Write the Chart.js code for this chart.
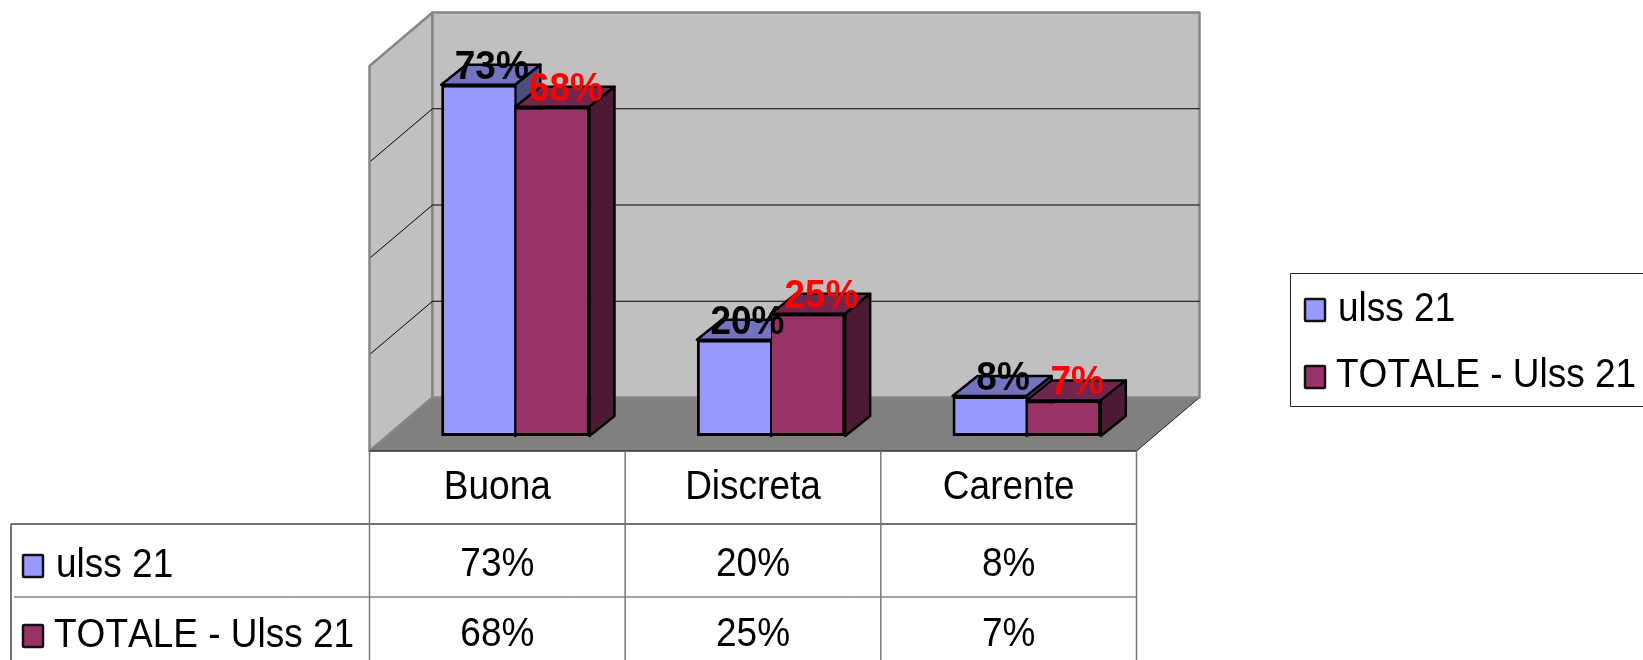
<!DOCTYPE html>
<html>
<head>
<meta charset="utf-8">
<title>ulss 21</title>
<script src="https://cdn.jsdelivr.net/npm/chart.js@4"></script>
<style>
  html, body { margin: 0; padding: 0; background: #fff; overflow: hidden; }
  canvas { display: block; }
</style>
</head>
<body>
<canvas id="myChart" width="1643" height="660"></canvas>
<script>
// Values (percent)
const categories = ['Buona', 'Discreta', 'Carente'];
const ulss21 = [73, 20, 8.3];
const totale = [68.4, 25.4, 7.4];
const seriesNames = ['ulss 21', 'TOTALE - Ulss 21'];
const yTicks = [0, 20, 40, 60, 80];

const blue = { front: '#9999ff', top: '#7373bf', side: '#4d4d80' };
const wine = { front: '#993366', top: '#73264d', side: '#4d1a33' };
const textFont = '37px "Liberation Sans"';
const labelFont = 'bold 37px "Liberation Sans"';

// the bars stand a bit behind the front edge of the floor
const planeDx = 18, planeDy = 15;
const wallDx = 63, wallDy = 53.5;
const barDx = 25, barDy = 20;

// the reference text is a little taller than it is wide
function putText(ctx, text, x, y, font, color, align) {
    ctx.save();
    ctx.translate(x, y);
    ctx.scale(1, 1.08);
    ctx.font = font;
    ctx.fontKerning = 'none';
    ctx.fillStyle = color;
    ctx.textAlign = align || 'center';
    ctx.textBaseline = 'alphabetic';
    ctx.fillText(text, 0, 0);
    ctx.restore();
}

function poly(ctx, pts, fill, stroke, width) {
    ctx.beginPath();
    ctx.moveTo(pts[0][0], pts[0][1]);
    for (let i = 1; i < pts.length; i++) ctx.lineTo(pts[i][0], pts[i][1]);
    ctx.closePath();
    if (fill) {
        ctx.fillStyle = fill;
        ctx.fill();
    }
    if (stroke) {
        ctx.strokeStyle = stroke;
        ctx.lineWidth = width;
        ctx.lineJoin = 'round';
        ctx.stroke();
    }
}

function line(ctx, x1, y1, x2, y2, color, width) {
    ctx.beginPath();
    ctx.moveTo(x1, y1);
    ctx.lineTo(x2, y2);
    ctx.strokeStyle = color;
    ctx.lineWidth = width;
    ctx.stroke();
}

function keyBox(ctx, x, y, color) {
    ctx.beginPath();
    ctx.roundRect(x, y, 20, 22, 1);
    ctx.fillStyle = color;
    ctx.fill();
    ctx.strokeStyle = '#111';
    ctx.lineWidth = 2.5;
    ctx.stroke();
}

// top and right faces of each bar of one dataset
function drawFaces(chart, index, colors) {
    const ctx = chart.ctx;
    chart.getDatasetMeta(index).data.forEach(bar => {
        const left = bar.x - bar.width / 2;
        const right = bar.x + bar.width / 2;
        poly(ctx, [[left, bar.y], [left + barDx, bar.y - barDy], [right + barDx, bar.y - barDy], [right, bar.y]], colors.top, '#000', 2.5);
        poly(ctx, [[right, bar.y], [right + barDx, bar.y - barDy], [right + barDx, bar.base - barDy], [right, bar.base]], colors.side, '#000', 2.5);
    });
}

// keep the black seam between the two front faces on top of the wine top face
function drawSeam(chart) {
    const red = chart.getDatasetMeta(1).data;
    chart.getDatasetMeta(0).data.forEach((bar, i) => {
        const seam = bar.x + bar.width / 2;
        line(chart.ctx, seam, Math.max(bar.y, red[i].y), seam, bar.base, '#000', 2);
    });
}

const scene3d = {
    id: 'scene3d',
    beforeDatasetsDraw(chart) {
        const ctx = chart.ctx;
        const y = chart.scales.y;
        const area = chart.chartArea;
        const frontLeft = area.left - planeDx;
        const frontRight = area.right - planeDx;
        const frontBase = y.getPixelForValue(0) + planeDy;
        const frontTop = y.getPixelForValue(80) + planeDy;
        const backLeft = frontLeft + wallDx;
        const backRight = frontRight + wallDx;
        const backBase = frontBase - wallDy;
        const backTop = frontTop - wallDy;

        // floor
        poly(ctx, [[frontLeft, frontBase], [backLeft, backBase], [backRight, backBase], [frontRight, frontBase]], '#808080');
        line(ctx, frontRight, frontBase, backRight, backBase, '#222', 1);
        // side wall and back wall
        poly(ctx, [[frontLeft, frontTop], [backLeft, backTop], [backLeft, backBase], [frontLeft, frontBase]], '#c0c0c0', '#868686', 2.5);
        poly(ctx, [[backLeft, backTop], [backRight, backTop], [backRight, backBase], [backLeft, backBase]], '#c0c0c0', '#868686', 2.5);

        // gridlines run along the side wall and the back wall
        yTicks.slice(1, -1).forEach(v => {
            const gy = y.getPixelForValue(v) + planeDy;
            line(ctx, frontLeft + 1, gy - 1, backLeft, gy - wallDy, '#000', 1);
            line(ctx, backLeft, gy - wallDy, backRight, gy - wallDy, '#000', 1);
        });

        drawFaces(chart, 0, blue);
    },
    afterDatasetsDraw(chart) {
        drawFaces(chart, 1, wine);
        drawSeam(chart);
    },
    afterDraw(chart) {
        const ctx = chart.ctx;
        const x = chart.scales.x;
        const y = chart.scales.y;
        const area = chart.chartArea;

        // value labels over the bars
        [[ulss21, '#000', 0], [totale, '#ff0000', 1]].forEach(([values, color, index]) => {
            chart.getDatasetMeta(index).data.forEach((bar, i) => {
                putText(ctx, Math.round(values[i]) + '%', bar.x + 13.5, bar.y - 6, labelFont, color);
            });
        });

        // data table under the floor
        const tableTop = y.getPixelForValue(0) + planeDy;
        const rowA = tableTop + 73;
        const rowB = rowA + 73;
        const tableBottom = chart.height;
        const tableLeft = 11;
        const frontLeft = area.left - planeDx;
        const frontRight = area.right - planeDx;
        const colWidth = (frontRight - frontLeft) / categories.length;

        line(ctx, frontLeft, tableTop, frontRight, tableTop, '#333', 1.5);
        line(ctx, tableLeft, rowA, frontRight, rowA, '#444', 1.5);
        line(ctx, tableLeft + 3, rowB, frontRight, rowB, '#444', 1);
        line(ctx, tableLeft, rowA, tableLeft, tableBottom, '#444', 1.5);
        for (let i = 0; i <= categories.length; i++) {
            const cx = frontLeft + colWidth * i;
            line(ctx, cx, tableTop, cx, tableBottom, '#777', 1.5);
        }
        categories.forEach((name, i) => {
            const cx = x.getPixelForValue(i) - planeDx;
            putText(ctx, name, cx, tableTop + 48, textFont, '#000');
            putText(ctx, Math.round(ulss21[i]) + '%', cx, rowA + 52, textFont, '#000');
            putText(ctx, Math.round(totale[i]) + '%', cx, rowB + 49, textFont, '#000');
        });
        keyBox(ctx, 23, rowA + 31, blue.front);
        keyBox(ctx, 23, rowB + 28, wine.front);
        putText(ctx, seriesNames[0], 56, rowA + 53, textFont, '#000', 'left');
        putText(ctx, seriesNames[1], 54, rowB + 50, textFont, '#000', 'left');

        // legend box, its right side runs off the picture
        ctx.strokeStyle = '#222';
        ctx.lineWidth = 1;
        ctx.strokeRect(1290.5, 273.5, 400, 133);
        keyBox(ctx, 1305, 299, blue.front);
        keyBox(ctx, 1305, 366, wine.front);
        putText(ctx, seriesNames[0], 1338, 321, textFont, '#000', 'left');
        putText(ctx, seriesNames[1], 1336, 387, textFont, '#000', 'left');
    }
};

const ctx = document.getElementById('myChart').getContext('2d');
const myChart = new Chart(ctx, {
    type: 'bar',
    data: {
        labels: categories,
        datasets: [
            {
                label: seriesNames[0],
                data: ulss21,
                backgroundColor: blue.front,
                borderColor: '#000',
                borderWidth: { left: 3, top: 3, bottom: 3, right: 1 },
                borderSkipped: false
            },
            {
                label: seriesNames[1],
                data: totale,
                backgroundColor: wine.front,
                borderColor: '#000',
                borderWidth: { left: 1, top: 3, bottom: 3, right: 3 },
                borderSkipped: false
            }
        ]
    },
    options: {
        responsive: false,
        animation: false,
        layout: { padding: { left: 387.5, right: 488.5, top: 51, bottom: 224 } },
        datasets: { bar: { barPercentage: 1, categoryPercentage: 0.58 } },
        plugins: {
            legend: { display: false },
            tooltip: { enabled: false }
        },
        scales: {
            x: { display: false },
            y: { display: false, min: 0, max: 80, ticks: { stepSize: 20 } }
        }
    },
    plugins: [scene3d]
});
</script>
</body>
</html>
